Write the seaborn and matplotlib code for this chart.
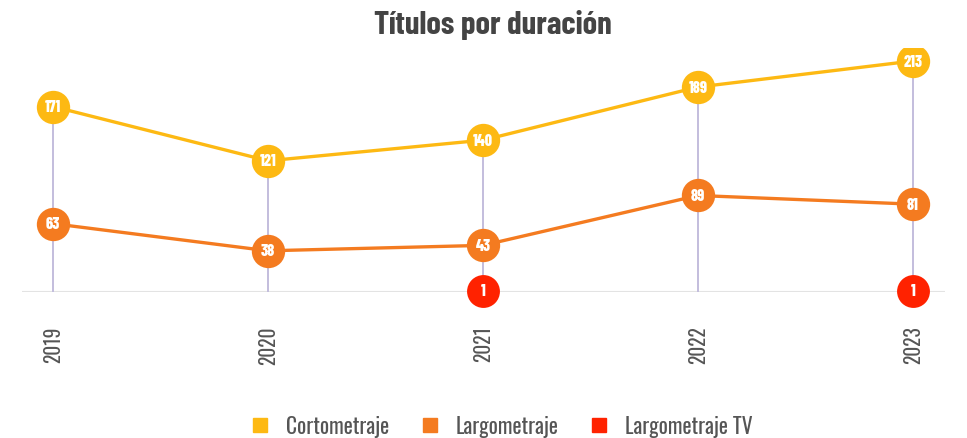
import numpy as np
import pandas as pd
import matplotlib.pyplot as plt
from matplotlib.lines import Line2D
import seaborn as sns

years = ["2019", "2020", "2021", "2022", "2023"]
corto = [171, 121, 140, 189, 213]
largo = [63, 38, 43, 89, 81]
tv_years = ["2021", "2023"]
tv = [1, 1]

series_names = ["Cortometraje", "Largometraje", "Largometraje TV"]
colors = ["#FDB913", "#F47B20", "#FF2200"]

sns.set_theme(style="white")
plt.rcParams["font.family"] = ["Oswald", "Barlow Condensed", "DejaVu Sans"]

df = pd.DataFrame({
    "year": years * 2,
    "value": corto + largo,
    "serie": ["Cortometraje"] * len(years) + ["Largometraje"] * len(years),
})
df_tv = pd.DataFrame({"year": tv_years, "value": tv, "serie": "Largometraje TV"})

fig = plt.figure(figsize=(9.67, 4.39), dpi=100)
ax = fig.add_axes([22 / 967, 1 - 293 / 439, (945 - 22) / 967, 244 / 439])

x = np.arange(len(years))
ax.vlines(x, 0, np.maximum(corto, largo), color="#c3bddd", lw=1.4, zorder=1)
ax.axhline(0, color="#e3e3e3", lw=1.5, zorder=0)

sns.lineplot(data=df, x="year", y="value", hue="serie", palette=colors[:2],
             lw=2.4, marker="o", markersize=24, markeredgewidth=0,
             legend=False, ax=ax, zorder=3, sort=False)
sns.scatterplot(data=df_tv, x="year", y="value", color=colors[2], s=560,
                linewidth=0, legend=False, ax=ax, zorder=4)
for coll in ax.collections:
    coll.set_clip_on(False)

# numbers inside the circles
for vals, xs in [(corto, years), (largo, years), (tv, tv_years)]:
    for xv, v in zip(xs, vals):
        ax.text(years.index(xv), v, str(v), color="white", fontsize=11.5,
                fontweight=800, ha="center", va="center", zorder=5,
                family=["Barlow Condensed", "DejaVu Sans"])

ax.set_xlim(-0.145, 4.15)
ax.set_ylim(0, 225)
ax.set_yticks([])
ax.set_xlabel("")
ax.set_ylabel("")
ax.set_xticks(x)
ax.set_xticklabels(years, rotation=90, fontsize=14, color="#555555",
                   fontweight="light")
ax.tick_params(axis="x", length=0, pad=24)
for s in ax.spines.values():
    s.set_visible(False)

fig.text(493 / 967, 1 - 25 / 439, "Títulos por duración", ha="center",
         va="center", fontsize=23.5, fontweight="bold", color="#444444",
         family=["Barlow Condensed", "DejaVu Sans"])

handles = [Line2D([], [], marker="s", ls="", color=c, markersize=9.5) for c in colors]
fig.legend(handles, series_names, loc="center", bbox_to_anchor=(500 / 967, 1 - 427 / 439),
           ncol=3, frameon=False, handletextpad=0.6, columnspacing=1.3,
           handlelength=1.2, labelcolor="#555555",
           prop={"size": 15.5, "weight": "light"})

fig.savefig("out.png", dpi=100)
